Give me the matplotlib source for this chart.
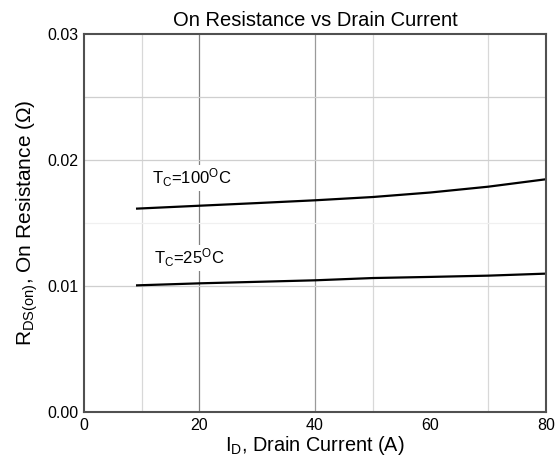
import matplotlib
matplotlib.use('Agg')
import matplotlib.pyplot as plt
from matplotlib.ticker import MultipleLocator

plt.rcParams['font.family'] = ['Liberation Sans', 'DejaVu Sans']
plt.rcParams['mathtext.fontset'] = 'custom'
plt.rcParams['mathtext.rm'] = 'Liberation Sans'
plt.rcParams['mathtext.it'] = 'Liberation Sans'

# drain current (A) and on resistance (ohm)
id_amps = [9.2, 20, 30, 40, 50, 60, 70, 80]
rds_100c = [0.01614, 0.01637, 0.01658, 0.0168, 0.01706, 0.01742, 0.01788, 0.01847]
rds_25c = [0.01005, 0.01021, 0.01033, 0.01045, 0.01063, 0.01072, 0.01082, 0.01098]

major_x = [20, 40]
minor_x = [10, 50, 70]
major_y = [0.01, 0.02, 0.025]
faint_y = [0.015]

fig = plt.figure(figsize=(5.58, 4.68), dpi=100)
ax = fig.add_axes([0.1505, 0.1197, 0.828, 0.8077])

for x in minor_x:
    ax.axvline(x, color='#d8d8d8', lw=0.9, zorder=0)
ax.axvline(major_x[0], color='#808080', lw=0.9, zorder=0)
ax.axvline(major_x[1], color='#9a9a9a', lw=0.9, zorder=0)
for y in faint_y:
    ax.axhline(y, color='#f0f0f0', lw=0.9, zorder=0)
for y in major_y:
    ax.axhline(y, color='#cfcfcf', lw=0.9, zorder=0)

ax.plot(id_amps, rds_100c, color='black', lw=1.6)
ax.plot(id_amps, rds_25c, color='black', lw=1.6)

box = dict(facecolor='white', edgecolor='none', pad=1.5)
ax.text(11.8, 0.0181, r'T$_\mathrm{C}$=100$^\mathrm{O}$C', fontsize=12, va='baseline', bbox=box)
ax.text(12.1, 0.01175, r'T$_\mathrm{C}$=25$^\mathrm{O}$C', fontsize=12, va='baseline', bbox=box)

ax.set_xlim(0, 80)
ax.set_ylim(0, 0.03)
ax.xaxis.set_major_locator(MultipleLocator(20))
ax.yaxis.set_major_locator(MultipleLocator(0.01))
ax.yaxis.set_major_formatter(matplotlib.ticker.FormatStrFormatter('%.2f'))
ax.tick_params(length=0, labelsize=11.5, pad=4)

for s in ax.spines.values():
    s.set_color('#505050')
    s.set_linewidth(1.5)

ax.set_title('On Resistance vs Drain Current', fontsize=14.5, pad=6)
ax.set_xlabel(r'I$_\mathrm{D}$, Drain Current (A)', fontsize=14.3, labelpad=1)
ax.set_ylabel(r'R$_\mathrm{DS(on)}$, On Resistance ($\Omega$)', fontsize=15, labelpad=5)

fig.savefig('out.png', dpi=100)
